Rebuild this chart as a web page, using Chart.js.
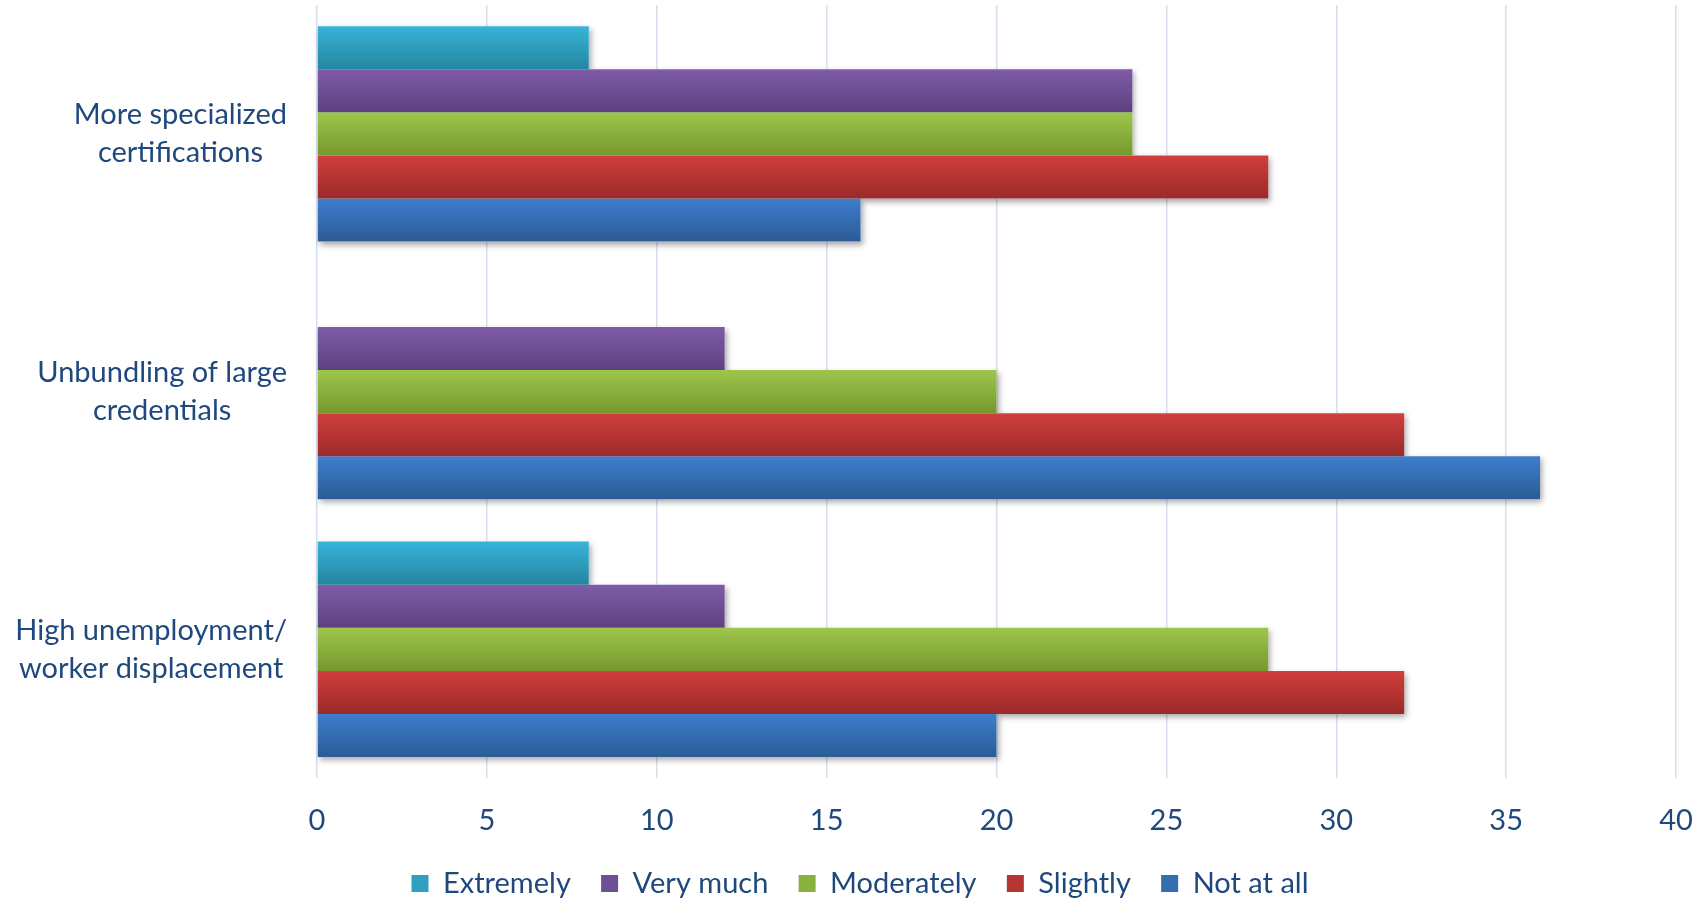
<!DOCTYPE html>
<html lang="en">
<head>
<meta charset="UTF-8">
<title>Credential trends</title>
<script src="https://cdn.jsdelivr.net/npm/chart.js@4.4.1/dist/chart.umd.min.js"></script>
<style>
  body { margin: 0; background: #ffffff; }
  #wrap { width: 1705px; height: 900px; }
</style>
</head>
<body>
<div id="wrap"><canvas id="chart"></canvas></div>
<script>
  // data
  const categories = [
    ["More specialized", "certifications"],
    ["Unbundling of large", "credentials"],
    ["High unemployment/", "worker displacement"]
  ]
  const seriesNames = ["Extremely", "Very much", "Moderately", "Slightly", "Not at all"]
  const extremely = [8, 0, 8]
  const veryMuch = [24, 12, 12]
  const moderately = [24, 20, 28]
  const slightly = [28, 32, 32]
  const notAtAll = [16, 36, 20]
  const xTickValues = [0, 5, 10, 15, 20, 25, 30, 35, 40]

  const seriesValues = [extremely, veryMuch, moderately, slightly, notAtAll]
  const seriesTop = ['#38B4D9', '#7F5BA9', '#9EC64B', '#D03F3C', '#3D7ECC']
  const seriesBottom = ['#23869F', '#5E4180', '#76982F', '#9B2A2A', '#2C5B96']
  const seriesMid = ['#2FA0BF', '#6E4E95', '#8AB03E', '#B73533', '#346DB2']

  const textColor = '#1F497D'
  const fontFamily = 'Lato, "Open Sans", sans-serif'
  const fontSize = 29
  Chart.defaults.color = textColor
  Chart.defaults.font.family = fontFamily

  // gradient fill + soft drop shadow like the office chart
  const barLook = {
    id: 'barLook',
    beforeDatasetsDraw(chart) {
      const ctx = chart.ctx
      ctx.save()
      ctx.shadowColor = 'rgba(0,0,0,0.35)'
      ctx.shadowBlur = 6
      ctx.shadowOffsetX = 2
      ctx.shadowOffsetY = 3
      ctx.fillStyle = '#ffffff'
      chart.data.datasets.forEach((ds, i) => {
        chart.getDatasetMeta(i).data.forEach(bar => {
          const { x, y, base, height } = bar.getProps(['x', 'y', 'base', 'height'], true)
          if (x - base < 1) return
          ctx.fillRect(base, y - height / 2, x - base, height)
          const g = ctx.createLinearGradient(0, y - height / 2, 0, y + height / 2)
          g.addColorStop(0, seriesTop[i])
          g.addColorStop(1, seriesBottom[i])
          bar.options = Object.assign({}, bar.options, { backgroundColor: g })
        })
      })
      ctx.restore()
    }
  }

  // category labels: lines centred in a block that is right aligned to the axis
  const yLabels = {
    id: 'yLabels',
    afterDraw(chart) {
      const ctx = chart.ctx
      const scale = chart.scales.y
      ctx.save()
      ctx.font = fontSize + 'px ' + fontFamily
      ctx.fillStyle = textColor
      ctx.textAlign = 'center'
      ctx.textBaseline = 'middle'
      categories.forEach((lines, i) => {
        const mid = scale.getPixelForValue(i)
        const w = Math.max(...lines.map(l => ctx.measureText(l).width))
        const cx = scale.right - 30 - w / 2
        lines.forEach((l, k) => ctx.fillText(l, cx, mid + (k - (lines.length - 1) / 2) * 38))
      })
      ctx.restore()
    }
  }

  // nudge the legend row a little lower and to the right
  const legendShift = {
    id: 'legendShift',
    afterLayout(chart) {
      chart.legend.top += 8
      chart.legend.bottom += 8
      chart.legend.left += 22
      chart.legend.right += 22
    }
  }

  const ctx = document.getElementById('chart').getContext('2d')
  const myChart = new Chart(ctx, {
    type: 'bar',
    data: {
      labels: categories,
      datasets: seriesNames.map((name, i) => ({
        label: name,
        data: seriesValues[i],
        backgroundColor: seriesMid[i],
        borderWidth: 0,
        categoryPercentage: 0.836,
        barPercentage: 1
      }))
    },
    options: {
      indexAxis: 'y',
      responsive: true,
      maintainAspectRatio: false,
      animation: false,
      layout: { padding: { top: 5, right: 29, bottom: 0, left: 0 } },
      scales: {
        x: {
          min: xTickValues[0],
          max: xTickValues[xTickValues.length - 1],
          afterBuildTicks: s => { s.ticks = xTickValues.map(v => ({ value: v })) },
          afterFit: s => { s.height += 12 },
          grid: { color: '#D5DFEE', lineWidth: 1.5, drawTicks: true, tickLength: 22, tickColor: 'rgba(0,0,0,0)' },
          border: { display: false },
          ticks: { padding: 3, font: { size: fontSize } }
        },
        y: {
          grid: { display: false },
          border: { display: false },
          ticks: { display: false },
          afterFit: s => { s.width = 317 }
        }
      },
      plugins: {
        legend: {
          position: 'bottom',
          labels: {
            boxWidth: 17,
            boxHeight: 17,
            padding: 8,
            font: { size: fontSize },
            color: textColor,
            generateLabels: chart => chart.data.datasets.map((ds, i) => ({
              text: i < seriesNames.length - 1 ? ds.label + '   ' : ds.label,
              fillStyle: seriesMid[i],
              strokeStyle: seriesMid[i],
              lineWidth: 0,
              fontColor: textColor,
              hidden: false,
              datasetIndex: i
            }))
          }
        },
        tooltip: { enabled: false }
      }
    },
    plugins: [barLook, yLabels, legendShift]
  })
</script>
</body>
</html>
